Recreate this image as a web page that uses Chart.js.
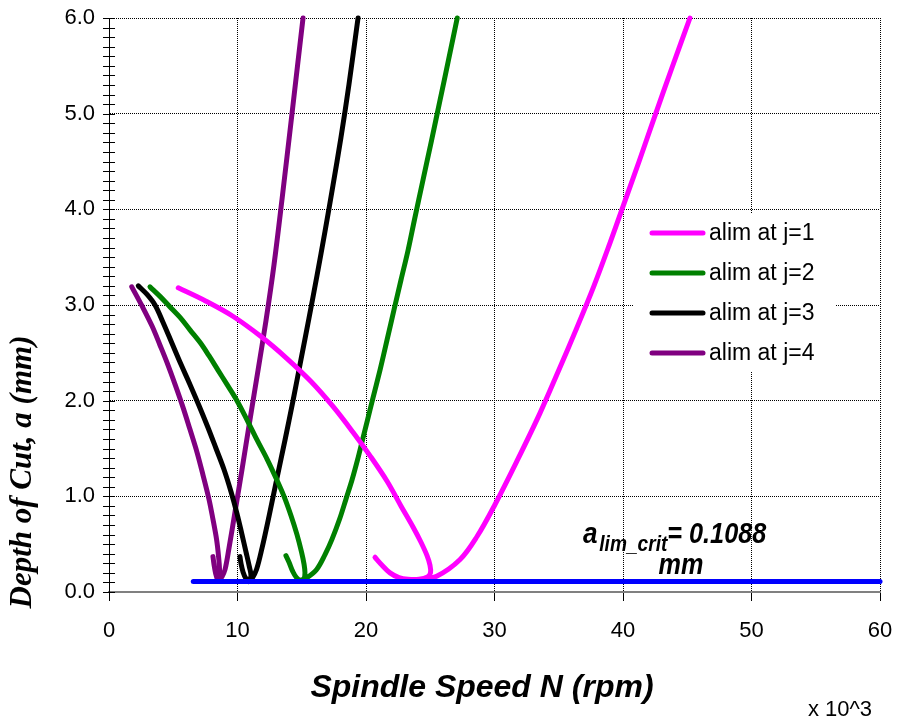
<!DOCTYPE html>
<html>
<head>
<meta charset="utf-8">
<script src="https://cdn.jsdelivr.net/npm/chart.js@4.4.1/dist/chart.umd.min.js"></script>
<style>
  html, body { margin: 0; padding: 0; background: #fff; }
  #wrap { width: 897px; height: 726px; }
</style>
</head>
<body>
<div id="wrap"><canvas id="lobeChart" width="897" height="726"></canvas></div>
<script>
// spindle speed in thousands of rpm, depth of cut in mm
// null splits each lobe into its falling branch (with the small hook) and its rising branch
const speedJ1 = [5.39, 7.55, 9.67, 11.83, 13.85, 15.72, 17.43, 18.99, 20.39, 21.63, 22.72, 23.66, 24.28, 24.75, 24.98, 25.02,
                 24.79, 24.12, 23.27, 22.57, 21.87, 21.25, 20.7, null,
                 23.27, 24.2, 25.5, 27.32, 28.64, 30.04, 31.75, 33.54, 34.94, 36.34, 37.74, 38.99, 39.92, 41.25, 42.49, 43.81, 45.21];
const depthJ1 = [3.18, 3.04, 2.88, 2.67, 2.44, 2.2, 1.94, 1.67, 1.41, 1.16, 0.9, 0.68, 0.52, 0.38, 0.28, 0.2,
                 0.157, 0.133, 0.133, 0.15, 0.2, 0.28, 0.363, null,
                 0.125, 0.13, 0.165, 0.34, 0.58, 0.915, 1.37, 1.87, 2.3, 2.74, 3.2, 3.65, 4.0, 4.5, 4.98, 5.48, 6.0];

const speedJ2 = [3.19, 3.97, 4.75, 5.53, 6.3, 7.08, 7.78, 8.48, 9.18, 9.96, 10.74, 11.52, 12.3, 13.0, 13.62, 14.16, 14.63, 14.98, 15.18, 15.25,
                 15.18, 14.94, 14.59, 14.28, 14.01, 13.77, null,
                 14.86, 15.41, 16.16, 16.81, 17.35, 17.94, 18.44, 18.91, 19.34, 19.73, 20.12, 20.51, 21.09, 21.63, 22.18, 22.72, 23.27, 23.77,
                 24.44, 25.1, 25.76, 26.42, 27.1];
const depthJ2 = [3.19, 3.09, 2.98, 2.87, 2.74, 2.61, 2.47, 2.32, 2.17, 2.0, 1.8, 1.59, 1.39, 1.19, 1.0, 0.8, 0.6, 0.42, 0.29, 0.2,
                 0.14, 0.12, 0.15, 0.22, 0.31, 0.38, null,
                 0.12, 0.15, 0.235, 0.39, 0.55, 0.76, 0.97, 1.17, 1.38, 1.59, 1.8, 2.01, 2.32, 2.63, 2.95, 3.26, 3.57, 3.89,
                 4.31, 4.72, 5.14, 5.56, 6.0];

const speedJ3 = [2.28, 2.96, 3.58, 4.2, 4.9, 5.6, 6.3, 7.0, 7.7, 8.33, 8.95, 9.49, 9.96, 10.35, 10.66, 10.93, 11.05,
                 10.89, 10.66, 10.43, 10.27, 10.19, null,
                 10.89, 11.13, 11.48, 11.91, 12.45, 13.07, 13.7, 14.32, 14.94, 15.56, 16.19, 16.81, 17.43, 18.05, 18.68, 19.38];
const depthJ3 = [3.2, 3.11, 3.0, 2.82, 2.6, 2.38, 2.17, 1.95, 1.72, 1.5, 1.28, 1.05, 0.82, 0.6, 0.42, 0.26, 0.17,
                 0.13, 0.14, 0.21, 0.3, 0.37, null,
                 0.11, 0.14, 0.235, 0.46, 0.79, 1.19, 1.59, 2.0, 2.43, 2.86, 3.31, 3.77, 4.25, 4.75, 5.31, 6.0];

const speedJ4 = [1.77, 2.57, 3.35, 3.97, 4.51, 5.14, 5.76, 6.3, 6.85, 7.32, 7.78, 8.09, 8.37, 8.52, 8.6, 8.56,
                 8.44, 8.29, 8.17, 8.09, null,
                 8.56, 8.79, 9.03, 9.34, 9.81, 10.35, 10.97, 11.6, 12.22, 12.84, 13.46, 14.24, 15.1];
const depthJ4 = [3.19, 2.99, 2.78, 2.58, 2.4, 2.17, 1.93, 1.7, 1.46, 1.22, 0.97, 0.76, 0.55, 0.38, 0.236, 0.16,
                 0.136, 0.2, 0.29, 0.37, null,
                 0.12, 0.16, 0.235, 0.46, 0.84, 1.28, 1.8, 2.32, 2.84, 3.42, 4.1, 5.0, 6.0];

// critical limit line
const critSpeed = [6.56, 60];
const critDepth = [0.1088, 0.1088];
const critLabel = '0.1088';

const seriesNames = ['alim at j=1', 'alim at j=2', 'alim at j=3', 'alim at j=4'];
const seriesColors = ['#ff00ff', '#008000', '#000000', '#800080'];

const xTicks = [0, 10, 20, 30, 40, 50, 60];
const yTicks = [0, 1, 2, 3, 4, 5, 6];

const SANS = "'Liberation Sans', Arial, sans-serif";
const SERIF = "'Liberation Serif', 'Times New Roman', serif";

const toPoints = (xs, ys) => xs.map((x, i) => ({ x: x, y: ys[i] }));

const lobeDataset = (idx, xs, ys) => ({
    label: seriesNames[idx],
    data: toPoints(xs, ys),
    showLine: true,
    borderColor: seriesColors[idx],
    backgroundColor: seriesColors[idx],
    borderWidth: 5,
    borderCapStyle: 'round',
    borderJoinStyle: 'round',
    tension: 0.35,
    pointRadius: 0,
    spanGaps: false,
    clip: 6
});

// keep the plot frame fixed: no extra room reserved for overhanging tick labels
const fixScale = (size) => (scale) => {
    if (scale.isHorizontal()) {
        scale.height = size;
    } else {
        scale.width = size;
    }
    scale.paddingTop = 0;
    scale.paddingBottom = 0;
    scale.paddingLeft = 0;
    scale.paddingRight = 0;
};

// minor ticks on the depth axis, one every 0.1 mm
const minorTicks = {
    id: 'minorTicks',
    beforeDatasetsDraw(chart) {
        const ctx = chart.ctx;
        const y = chart.scales.y;
        const left = chart.chartArea.left;
        ctx.save();
        ctx.strokeStyle = '#000';
        ctx.lineWidth = 1;
        for (let k = 0; k <= 60; k++) {
            const py = Math.round(y.getPixelForValue(k / 10)) + 0.5;
            ctx.beginPath();
            ctx.moveTo(left - 6, py);
            ctx.lineTo(left + 6, py);
            ctx.stroke();
        }
        ctx.restore();
    }
};

// legend box, limit annotation and axis titles
const decorations = {
    id: 'decorations',
    afterDatasetsDraw(chart) {
        const ctx = chart.ctx;
        ctx.save();

        ctx.fillStyle = '#fff';
        ctx.fillRect(634, 214, 202, 158);
        ctx.lineCap = 'round';
        ctx.lineWidth = 5;
        ctx.font = '23px ' + SANS;
        ctx.textBaseline = 'middle';
        ctx.textAlign = 'left';
        seriesNames.forEach((name, i) => {
            const ly = 233 + i * 40;
            ctx.strokeStyle = seriesColors[i];
            ctx.beginPath();
            ctx.moveTo(652, ly);
            ctx.lineTo(703, ly);
            ctx.stroke();
            ctx.fillStyle = '#000';
            ctx.fillText(name, 709, ly + 1);
        });

        // a_lim_crit = 0.1088 mm
        ctx.fillStyle = '#000';
        ctx.textBaseline = 'alphabetic';
        ctx.save();
        ctx.translate(583, 543);
        ctx.scale(0.87, 1);
        ctx.font = 'italic bold 30px ' + SANS;
        ctx.fillText('a', 0, 0);
        let w = ctx.measureText('a').width;
        ctx.font = 'italic bold 22px ' + SANS;
        ctx.fillText('lim_crit', w + 2, 8);
        w += 2 + ctx.measureText('lim_crit').width;
        ctx.font = 'italic bold 29px ' + SANS;
        ctx.fillText('= ' + critLabel, w, 0);
        ctx.restore();
        ctx.save();
        ctx.translate(681, 574);
        ctx.scale(0.87, 1);
        ctx.font = 'italic bold 29px ' + SANS;
        ctx.textAlign = 'center';
        ctx.fillText('mm', 0, 0);
        ctx.restore();

        // axis titles
        ctx.textAlign = 'center';
        ctx.textBaseline = 'middle';
        ctx.font = 'italic bold 32px ' + SANS;
        ctx.fillText('Spindle Speed N (rpm)', 482, 688);
        ctx.font = '22px ' + SANS;
        ctx.fillText('x 10^3', 840, 710);

        ctx.save();
        ctx.translate(23, 472);
        ctx.rotate(-Math.PI / 2);
        ctx.font = 'italic bold 31px ' + SERIF;
        ctx.fillText('Depth of Cut, a (mm)', 0, 0);
        ctx.restore();

        ctx.restore();
    }
};

new Chart(document.getElementById('lobeChart'), {
    type: 'scatter',
    data: {
        datasets: [
            lobeDataset(0, speedJ1, depthJ1),
            lobeDataset(1, speedJ2, depthJ2),
            lobeDataset(2, speedJ3, depthJ3),
            lobeDataset(3, speedJ4, depthJ4),
            {
                label: 'critical',
                data: toPoints(critSpeed, critDepth),
                showLine: true,
                borderColor: '#0000ff',
                borderWidth: 5,
                borderCapStyle: 'round',
                pointRadius: 0,
                order: -1,
                clip: 6
            }
        ]
    },
    options: {
        responsive: false,
        animation: false,
        devicePixelRatio: 1,
        layout: { autoPadding: false, padding: { top: 18, right: 17, left: 0, bottom: 0 } },
        plugins: {
            legend: { display: false },
            tooltip: { enabled: false }
        },
        scales: {
            x: {
                type: 'linear',
                min: 0,
                max: 60,
                afterFit: fixScale(134),
                afterBuildTicks: (scale) => { scale.ticks = xTicks.map(v => ({ value: v })); },
                ticks: {
                    color: '#000',
                    padding: 17,
                    font: { family: SANS, size: 22 },
                    maxRotation: 0
                },
                grid: {
                    color: '#000',
                    lineWidth: 1,
                    drawTicks: true,
                    tickLength: 9,
                    tickColor: '#000',
                    tickWidth: 1
                },
                border: { display: true, color: '#808080', width: 2, dash: [1, 1] }
            },
            y: {
                type: 'linear',
                min: 0,
                max: 6,
                afterFit: fixScale(109),
                afterBuildTicks: (scale) => { scale.ticks = yTicks.map(v => ({ value: v })); },
                ticks: {
                    color: '#000',
                    padding: 14,
                    font: { family: SANS, size: 22 },
                    callback: (v) => v.toFixed(1)
                },
                grid: {
                    color: '#000',
                    lineWidth: 1,
                    drawTicks: false
                },
                border: { display: true, color: '#000', width: 1, dash: [1, 1] }
            }
        }
    },
    plugins: [minorTicks, decorations]
});
</script>
</body>
</html>
